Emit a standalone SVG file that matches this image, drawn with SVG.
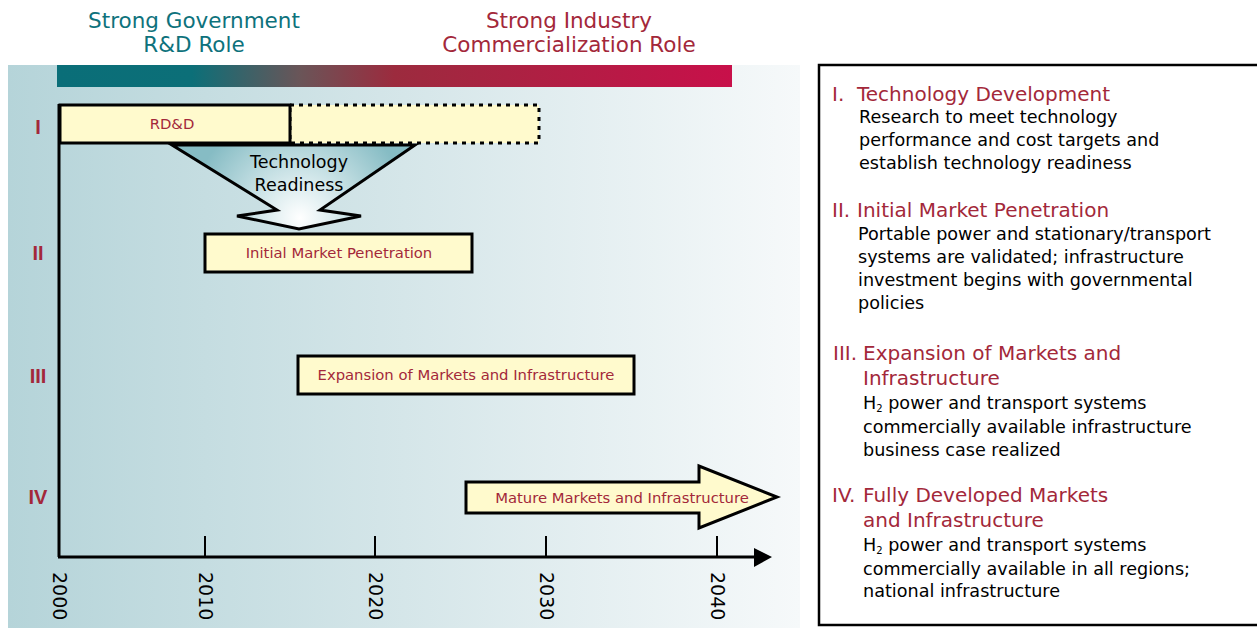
<svg xmlns="http://www.w3.org/2000/svg" width="1257" height="628" viewBox="0 0 1257 628">
<defs>
<linearGradient id="bg" x1="0" y1="0" x2="1" y2="0">
<stop offset="0" stop-color="#b5d4d9"/>
<stop offset="0.5" stop-color="#d5e6e9"/>
<stop offset="1" stop-color="#f6f9fa"/>
</linearGradient>
<linearGradient id="bar" x1="0" y1="0" x2="1" y2="0">
<stop offset="0" stop-color="#0a6e78"/>
<stop offset="0.2" stop-color="#0c6f78"/>
<stop offset="0.36" stop-color="#6a5558"/>
<stop offset="0.5" stop-color="#9c2b3e"/>
<stop offset="1" stop-color="#c8104a"/>
</linearGradient>
<radialGradient id="tr" cx="300" cy="218" r="110" gradientUnits="userSpaceOnUse">
<stop offset="0" stop-color="#ffffff"/>
<stop offset="0.35" stop-color="#d6e9ec"/>
<stop offset="1" stop-color="#86bcc4"/>
</radialGradient>
<style>
.title{font-family:"DejaVu Sans",sans-serif;font-size:21.5px;text-anchor:middle}
.rom{font-family:"Liberation Sans",Arial,sans-serif;font-size:20px;fill:#a3283a;text-anchor:middle;font-weight:bold}
.box{fill:#fffacd;stroke:#000;stroke-width:3}
.bt{font-family:"DejaVu Sans",sans-serif;font-size:14.8px;fill:#a3283a;text-anchor:middle}
.yr{font-family:"DejaVu Sans",sans-serif;font-size:19px;fill:#000}
.hd{font-family:"DejaVu Sans",sans-serif;font-size:20px;fill:#a3283a}
.bd{font-family:"DejaVu Sans",sans-serif;font-size:17.6px;fill:#000}
.tr{font-family:"DejaVu Sans",sans-serif;font-size:17.5px;fill:#000;text-anchor:middle}
.ax{stroke:#000;stroke-width:3;fill:none}
.tk{stroke:#000;stroke-width:2;fill:none}
</style>
</defs>
<rect width="1257" height="628" fill="#fff"/>
<rect x="8" y="65" width="792" height="563" fill="url(#bg)"/>
<rect x="57" y="65" width="675" height="22" fill="url(#bar)"/>
<g id="titles">
<text class="title" x="194" y="28" fill="#0e727c">Strong Government</text>
<text class="title" x="194" y="52" fill="#0e727c">R&amp;D Role</text>
<text class="title" x="569" y="28" fill="#a3283a">Strong Industry</text>
<text class="title" x="569" y="52" fill="#a3283a">Commercialization Role</text>
</g>
<g id="axes">
<line class="ax" x1="59" y1="104" x2="59" y2="557"/>
<line class="ax" x1="58" y1="557" x2="756" y2="557"/>
<path d="M754,548 L772,557 L754,567 z" fill="#000"/>
<line class="tk" x1="205" y1="536" x2="205" y2="557"/>
<line class="tk" x1="375" y1="536" x2="375" y2="557"/>
<line class="tk" x1="546" y1="536" x2="546" y2="557"/>
<line class="tk" x1="717" y1="536" x2="717" y2="557"/>
<text class="yr" transform="translate(53,572) rotate(90)">2000</text>
<text class="yr" transform="translate(199,572) rotate(90)">2010</text>
<text class="yr" transform="translate(369,572) rotate(90)">2020</text>
<text class="yr" transform="translate(540,572) rotate(90)">2030</text>
<text class="yr" transform="translate(711,572) rotate(90)">2040</text>
</g>
<g id="numerals">
<text class="rom" x="38" y="134">I</text>
<text class="rom" x="38" y="260">II</text>
<text class="rom" x="38" y="383">III</text>
<text class="rom" x="38" y="504">IV</text>
</g>
<g id="rdd">
<rect x="290" y="105" width="249" height="38" fill="#fffacd" stroke="#000" stroke-width="3" stroke-dasharray="4,5"/>
<rect class="box" x="60" y="105" width="230" height="38"/>
<text class="bt" x="172" y="129" font-size="14">RD&amp;D</text>
</g>
<g id="readiness">
<path d="M172,145 L415,145 L320,210 L361,216 L299,229 L237,216 L277,210 Z" fill="url(#tr)" stroke="#000" stroke-width="3" stroke-linejoin="miter"/>
<text class="tr" x="299" y="168">Technology</text>
<text class="tr" x="299" y="191">Readiness</text>
</g>
<g id="initial">
<rect class="box" x="205" y="234" width="267" height="38"/>
<text class="bt" x="339" y="258">Initial Market Penetration</text>
</g>
<g id="expansion">
<rect class="box" x="298" y="356" width="336" height="38"/>
<text class="bt" x="466" y="380">Expansion of Markets and Infrastructure</text>
</g>
<g id="mature">
<path d="M466,482 L699,482 L699,466 L777,497 L699,528 L699,513 L466,513 Z" fill="#fffacd" stroke="#000" stroke-width="3"/>
<text class="bt" x="622" y="503">Mature Markets and Infrastructure</text>
</g>
<g id="legend">
<rect x="819" y="65" width="445" height="560" fill="#fff" stroke="#000" stroke-width="2.5"/>
<text class="hd" y="101"><tspan x="832">I.</tspan><tspan x="857">Technology Development</tspan></text>
<text class="bd" x="859" y="123">Research to meet technology</text>
<text class="bd" x="859" y="146">performance and cost targets and</text>
<text class="bd" x="859" y="169">establish technology readiness</text>
<text class="hd" y="217"><tspan x="832">II.</tspan><tspan x="857">Initial Market Penetration</tspan></text>
<text class="bd" x="858" y="240">Portable power and stationary/transport</text>
<text class="bd" x="858" y="263">systems are validated; infrastructure</text>
<text class="bd" x="858" y="286">investment begins with governmental</text>
<text class="bd" x="858" y="309">policies</text>
<text class="hd" y="360"><tspan x="833">III.</tspan><tspan x="863">Expansion of Markets and</tspan></text>
<text class="hd" x="863" y="385">Infrastructure</text>
<text class="bd" x="863" y="409">H<tspan font-size="10" dy="3">2</tspan><tspan dy="-3"> power and transport systems</tspan></text>
<text class="bd" x="863" y="433">commercially available infrastructure</text>
<text class="bd" x="863" y="456">business case realized</text>
<text class="hd" y="502"><tspan x="832">IV.</tspan><tspan x="863">Fully Developed Markets</tspan></text>
<text class="hd" x="863" y="527">and Infrastructure</text>
<text class="bd" x="863" y="551">H<tspan font-size="10" dy="3">2</tspan><tspan dy="-3"> power and transport systems</tspan></text>
<text class="bd" x="863" y="575">commercially available in all regions;</text>
<text class="bd" x="863" y="597">national infrastructure</text>
</g>
</svg>
